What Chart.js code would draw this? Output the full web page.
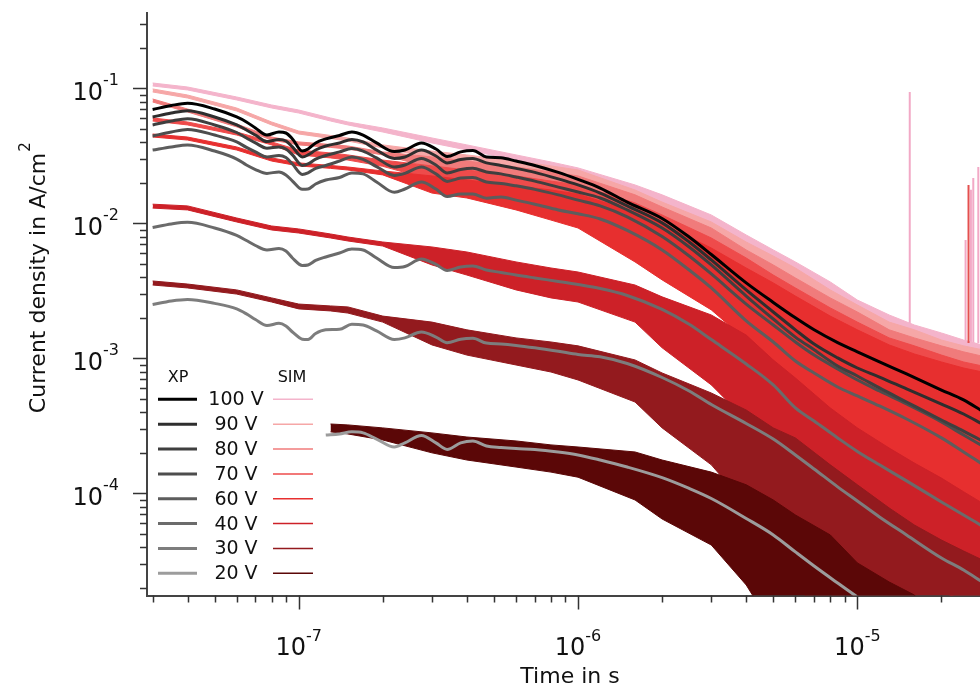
<!DOCTYPE html>
<html lang="en">
<head>
<meta charset="UTF-8">
<title>Current density transients</title>
<script src="https://cdn.jsdelivr.net/npm/chart.js"></script>
<style>
    body { margin: 0; background: #fff; }
    #wrap { width: 980px; height: 688px; position: relative; }
</style>
</head>
<body>
<div id="wrap"><canvas id="chart"></canvas></div>
<script>
// axis limits (s, A/cm^2)
const X_MIN = 2.864e-8, X_MAX = 2.748e-5;
const Y_MIN = 1.755e-5, Y_MAX = 0.3642;

const voltages = ['100 V', '90 V', '80 V', '70 V', '60 V', '40 V', '30 V', '20 V'];

const tXp = [3.0e-8, 3.5e-8, 4.0e-8, 5.0e-8, 6.0e-8, 6.5e-8, 7.0e-8, 7.7e-8, 8.5e-8, 9.0e-8,
    9.5e-8, 1.03e-7, 1.08e-7, 1.15e-7, 1.25e-7, 1.4e-7, 1.55e-7, 1.7e-7, 1.9e-7, 2.2e-7,
    2.4e-7, 2.75e-7, 3.1e-7, 3.4e-7, 3.8e-7, 4.2e-7, 4.7e-7, 5.3e-7, 6.0e-7, 7.0e-7,
    8.5e-7, 1.0e-6, 1.2e-6, 1.5e-6, 2.0e-6, 2.5e-6, 3.0e-6, 4.0e-6, 5.0e-6, 6.0e-6,
    7.0e-6, 8.5e-6, 1.0e-5, 1.2e-5, 1.5e-5, 2.0e-5, 2.4e-5, 2.8e-5];

const xp100 = [0.0699, 0.0748, 0.0777, 0.0705, 0.0615, 0.0565, 0.0510, 0.0452, 0.0476, 0.0468,
    0.0423, 0.0344, 0.0356, 0.0395, 0.0423, 0.0449, 0.0476, 0.0452, 0.0395, 0.0341,
    0.0350, 0.0395, 0.0356, 0.0314, 0.0339, 0.0347, 0.0311, 0.0307, 0.0290, 0.0269,
    0.0239, 0.0212, 0.0183, 0.0144, 0.0109, 0.00794, 0.00589, 0.00363, 0.00260, 0.00200,
    0.00163, 0.00131, 0.00112, 0.000942, 0.000768, 0.000584, 0.000493, 0.000408];
const xp90 = [0.0615, 0.0658, 0.0685, 0.0615, 0.0537, 0.0493, 0.0452, 0.0404, 0.0419, 0.0408,
    0.0369, 0.0311, 0.0322, 0.0350, 0.0375, 0.0395, 0.0419, 0.0402, 0.0350, 0.0303,
    0.0311, 0.0350, 0.0316, 0.0281, 0.0298, 0.0303, 0.0281, 0.0269, 0.0256, 0.0239,
    0.0214, 0.0193, 0.0168, 0.0135, 0.0101, 0.00729, 0.00537, 0.00322, 0.00221, 0.00163,
    0.00128, 0.00101, 0.000850, 0.000729, 0.000595, 0.000460, 0.000388, 0.000327];
const xp80 = [0.0537, 0.0574, 0.0597, 0.0537, 0.0472, 0.0430, 0.0395, 0.0361, 0.0369, 0.0356,
    0.0322, 0.0269, 0.0276, 0.0300, 0.0319, 0.0339, 0.0359, 0.0344, 0.0306, 0.0262,
    0.0271, 0.0303, 0.0271, 0.0237, 0.0251, 0.0256, 0.0241, 0.0233, 0.0221, 0.0206,
    0.0186, 0.0171, 0.01545, 0.0126, 0.00926, 0.00670, 0.00493, 0.00290, 0.00196, 0.00144,
    0.00116, 0.000880, 0.000742, 0.000605, 0.000476, 0.000350, 0.000290, 0.000245];
const xp70 = [0.0445, 0.0476, 0.0497, 0.0452, 0.0402, 0.0366, 0.0339, 0.0311, 0.0319, 0.0308,
    0.0276, 0.0231, 0.0237, 0.0256, 0.0269, 0.0290, 0.0311, 0.0298, 0.0264, 0.0227,
    0.0235, 0.0262, 0.0233, 0.0205, 0.0217, 0.0219, 0.0203, 0.0198, 0.0190, 0.0179,
    0.0163, 0.0149, 0.0135, 0.0112, 0.00801, 0.00574, 0.00423, 0.00253, 0.00177, 0.001325,
    0.00106, 0.000836, 0.000693, 0.000574, 0.000460, 0.000339, 0.000271, 0.000225];
const xp60 = [0.0350, 0.0369, 0.0382, 0.0344, 0.0300, 0.0271, 0.0251, 0.0235, 0.0241, 0.0229,
    0.0206, 0.0179, 0.0180, 0.0196, 0.0210, 0.0219, 0.0237, 0.0233, 0.0203, 0.0170,
    0.0180, 0.0203, 0.0180, 0.01585, 0.0165, 0.0165, 0.0154, 0.0157, 0.0149, 0.0139,
    0.0126, 0.0118, 0.0108, 0.00888, 0.00637, 0.00452, 0.00333, 0.00190, 0.001325, 0.000958,
    0.000781, 0.000615, 0.000528, 0.000445, 0.000356, 0.000258, 0.000203, 0.000165];
const xp40 = [0.00934, 0.00992, 0.0102, 0.00926, 0.00815, 0.00748, 0.00687, 0.00637, 0.00653, 0.00626,
    0.00555, 0.00489, 0.00493, 0.00532, 0.00565, 0.00605, 0.00647, 0.00637, 0.00555, 0.00472,
    0.00480, 0.00546, 0.00497, 0.00449, 0.00476, 0.00484, 0.00452, 0.00434, 0.00415, 0.00395,
    0.00372, 0.00353, 0.00330, 0.00293, 0.00231, 0.00179, 0.00138, 0.000911, 0.000637, 0.000430,
    0.000344, 0.000258, 0.000205, 0.000163, 0.000124, 0.0000865, 0.0000693, 0.0000574];
const xp30 = [0.00251, 0.00267, 0.00274, 0.00256, 0.00233, 0.00214, 0.001945, 0.001755, 0.00182, 0.00174,
    0.00157, 0.00139, 0.00138, 0.00153, 0.00163, 0.001645, 0.00179, 0.00177, 0.00160, 0.00138,
    0.00142, 0.00157, 0.00144, 0.00131, 0.00139, 0.00141, 0.00130, 0.00128, 0.00125, 0.00120,
    0.00113, 0.00107, 0.00103, 0.000918, 0.000723, 0.000574, 0.000456, 0.000330, 0.000253, 0.000193,
    0.000152, 0.000112, 0.0000880, 0.0000670, 0.0000493, 0.0000333, 0.0000271, 0.0000221];
const xp20 = [null, null, null, null, null, null, null, null, null, null,
    null, null, null, null, 0.000271, 0.000276, 0.000286, 0.000281, 0.000253, 0.000221,
    0.000237, 0.000269, 0.000237, 0.000212, 0.000237, 0.000245, 0.000225, 0.000219, 0.000215, 0.000212,
    0.000203, 0.000193, 0.000177, 0.000157, 0.000131, 0.000109, 0.0000918, 0.0000653, 0.0000493, 0.0000369,
    0.0000290, 0.0000217, 0.0000171, 0.0000133, null, null, null, null];

// simulated (SIM) traces: upper and lower edge of the noisy trace
const tSim = [3e-8, 4e-8, 6e-8, 8e-8, 1e-7, 1.3e-7, 1.5e-7, 2e-7, 3e-7, 4e-7,
    6e-7, 8e-7, 1e-6, 1.6e-6, 2e-6, 3e-6, 4e-6, 5e-6, 6e-6, 8e-6,
    1e-5, 1.3e-5, 1.6e-5, 2e-5, 2.4e-5, 2.8e-5];

const sim100Hi = [0.1098, 0.1026, 0.0865, 0.0755, 0.0693, 0.0605, 0.0565, 0.0510, 0.0430, 0.0382,
    0.0322, 0.02855, 0.0258, 0.0193, 0.0163, 0.01156, 0.00822, 0.00637, 0.00519, 0.00369,
    0.00271, 0.00210, 0.00177, 0.001545, 0.00137, 0.00126];
const sim100Lo = [0.1043, 0.0975, 0.0822, 0.0717, 0.0658, 0.0574, 0.0537, 0.0476, 0.0395, 0.0350,
    0.0295, 0.0258, 0.0229, 0.0149, 0.01156, 0.00693, 0.00452, 0.00322, 0.00249, 0.00163,
    0.00126, 0.000895, 0.000755, 0.000584, 0.000493, 0.000452];
const sim90Hi = [0.0992, 0.0895, 0.0717, 0.0565, 0.0484, 0.0449, 0.0430, 0.0382, 0.0344, 0.0322,
    0.0290, 0.0267, 0.0249, 0.0177, 0.0144, 0.01026, 0.00729, 0.00574, 0.00468, 0.00322,
    0.00249, 0.00186, 0.00163, 0.00137, 0.00124, 0.00116];
const sim90Lo = [0.0942, 0.0850, 0.0681, 0.0537, 0.0460, 0.0426, 0.0408, 0.0363, 0.0306, 0.0281,
    0.0249, 0.0225, 0.0203, 0.0137, 0.01026, 0.00584, 0.00382, 0.00271, 0.00210, 0.00137,
    0.00106, 0.000755, 0.000637, 0.000493, 0.000415, 0.000382];
const sim80Hi = [0.0836, 0.0705, 0.0546, 0.0437, 0.0402, 0.0385, 0.0375, 0.0339, 0.0311, 0.0290,
    0.0262, 0.0241, 0.0225, 0.0163, 0.01325, 0.00926, 0.00637, 0.00493, 0.00395, 0.00281,
    0.00221, 0.00163, 0.00142, 0.00124, 0.00112, 0.00104];
const sim80Lo = [0.0794, 0.0670, 0.0519, 0.0415, 0.0382, 0.0366, 0.0356, 0.0322, 0.0258, 0.0237,
    0.0210, 0.0183, 0.0163, 0.01156, 0.00865, 0.00493, 0.00322, 0.00221, 0.00168, 0.00106,
    0.000822, 0.000584, 0.000493, 0.000382, 0.000322, 0.000295];
const sim70Hi = [0.0605, 0.0565, 0.0476, 0.0402, 0.0350, 0.0333, 0.0322, 0.0295, 0.0267, 0.0249,
    0.0225, 0.0206, 0.0193, 0.0142, 0.01156, 0.00781, 0.00555, 0.00415, 0.00333, 0.00237,
    0.00186, 0.00142, 0.00124, 0.00106, 0.000942, 0.000880];
const sim70Lo = [0.0574, 0.0537, 0.0452, 0.0382, 0.0322, 0.0306, 0.0295, 0.0265, 0.0210, 0.0190,
    0.0163, 0.0142, 0.01217, 0.00822, 0.00615, 0.00350, 0.00229, 0.00163, 0.00126, 0.000755,
    0.000537, 0.000350, 0.000295, 0.000229, 0.000193, 0.000177];
const sim60Hi = [0.0460, 0.0437, 0.0369, 0.0306, 0.0281, 0.0269, 0.0262, 0.0245, 0.0225, 0.0210,
    0.0190, 0.0177, 0.01654, 0.01217, 0.00992, 0.00658, 0.00468, 0.00363, 0.00290, 0.00206,
    0.00163, 0.00126, 0.00108, 0.000942, 0.000850, 0.000794];
const sim60Lo = [0.0437, 0.0415, 0.0350, 0.0290, 0.0267, 0.0256, 0.0249, 0.0229, 0.0168, 0.01545,
    0.0126, 0.0106, 0.00926, 0.00519, 0.00382, 0.00229, 0.00137, 0.000926, 0.000637, 0.000350,
    0.000210, 0.000130, 0.0000975, 0.0000755, 0.0000615, 0.0000537];
const sim40Hi = [0.0139, 0.0135, 0.01098, 0.00958, 0.00911, 0.00836, 0.00794, 0.00729, 0.00670, 0.00615,
    0.00519, 0.00468, 0.00437, 0.00350, 0.00286, 0.00210, 0.00149, 0.000975, 0.000717, 0.000430,
    0.000306, 0.000217, 0.000168, 0.000130, 0.000103, 0.0000850];
const sim40Lo = [0.0130, 0.0126, 0.01026, 0.00895, 0.00850, 0.00781, 0.00742, 0.00681, 0.00493, 0.00415,
    0.00322, 0.00281, 0.00262, 0.00186, 0.00120, 0.000637, 0.000350, 0.000221, 0.000149, 0.0000781,
    0.0000476, 0.0000316, 0.0000241, 0.0000186, 0.0000163, 0.0000137];
const sim30Hi = [0.00375, 0.00356, 0.00322, 0.00281, 0.00253, 0.00245, 0.00241, 0.00206, 0.00186, 0.00163,
    0.00142, 0.001325, 0.00124, 0.000975, 0.000781, 0.000555, 0.000415, 0.000306, 0.000258, 0.000163,
    0.000116, 0.0000781, 0.0000584, 0.0000452, 0.0000375, 0.0000322];
const sim30Lo = [0.00350, 0.00333, 0.00300, 0.00262, 0.00233, 0.00225, 0.00217, 0.00186, 0.00126, 0.00106,
    0.000895, 0.000794, 0.000693, 0.000476, 0.000306, 0.000163, 0.0000822, 0.0000493, 0.0000221, 0.00001,
    0.00001, 0.00001, 0.00001, 0.00001, 0.00001, 0.00001];
const sim20Hi = [null, null, null, null, null, 0.000327, 0.000322, 0.000306, 0.000281, 0.000262,
    0.000245, 0.000229, 0.000221, 0.000203, 0.000177, 0.000144, 0.000116, 0.0000895, 0.0000693, 0.0000493,
    0.0000306, 0.0000221, 0.0000177, 0.00001, 0.00001, 0.00001];
const sim20Lo = [null, null, null, null, null, 0.000286, 0.000276, 0.000249, 0.000200, 0.000177,
    0.000157, 0.000144, 0.000132, 0.0000895, 0.0000647, 0.0000415, 0.0000210, 0.00001, 0.00001, 0.00001,
    0.00001, 0.00001, 0.00001, 0.00001, 0.00001, 0.00001];

// single spikes in the 100 V / 80 V simulations
const spikePinkT = [1.54e-5, 2.44e-5, 2.55e-5, 2.6e-5, 2.71e-5];
const spikePinkTop = [0.0942, 0.00755, 0.0178, 0.0217, 0.0262];
const spikeRedT = [2.5e-5];
const spikeRedTop = [0.0193];
const spikeBase = 0.0013;

const xpColors = ['#000000', '#2e2e2e', '#3f3f3f', '#4d4d4d', '#5d5d5d', '#6b6b6b', '#7d7d7d', '#9c9c9c'];
const simColors = ['#f4b4cb', '#f6a7a7', '#f07b7b', '#ee4b4b', '#e72f2f', '#cd2128', '#931a1e', '#5b0707'];

const xpSeries = [xp100, xp90, xp80, xp70, xp60, xp40, xp30, xp20];
const simHi = [sim100Hi, sim90Hi, sim80Hi, sim70Hi, sim60Hi, sim40Hi, sim30Hi, sim20Hi];
const simLo = [sim100Lo, sim90Lo, sim80Lo, sim70Lo, sim60Lo, sim40Lo, sim30Lo, sim20Lo];

const FONT = '"DejaVu Sans", Verdana, sans-serif';

function pts(ts, ys) {
    return ts.map((t, i) => ({ x: t, y: ys[i] }));
}
function spikePts(ts, tops) {
    const out = [];
    ts.forEach((t, i) => {
        out.push({ x: t, y: spikeBase }, { x: t, y: tops[i] }, { x: t, y: null });
    });
    return out;
}

let datasets = [];
xpSeries.forEach((arr, i) => {
    datasets.push({
        label: 'XP ' + voltages[i],
        data: pts(tXp, arr),
        borderColor: xpColors[i],
        borderWidth: 3,
        cubicInterpolationMode: 'monotone',
        order: 0
    });
});
simHi.forEach((hi, i) => {
    datasets.push({
        label: 'SIM ' + voltages[i],
        data: pts(tSim, hi),
        borderColor: simColors[i],
        borderWidth: 1,
        order: 8 - i
    });
    datasets.push({
        label: 'SIM ' + voltages[i] + ' low',
        data: pts(tSim, simLo[i]),
        borderColor: simColors[i],
        backgroundColor: simColors[i],
        borderWidth: 1,
        fill: '-1',
        order: 8 - i
    });
});
datasets.push({
    label: 'spikes 100 V',
    data: spikePts(spikePinkT, spikePinkTop),
    borderColor: '#f2a9c6',
    borderWidth: 2,
    order: 8
});
datasets.push({
    label: 'spikes 80 V',
    data: spikePts(spikeRedT, spikeRedTop),
    borderColor: '#e4504f',
    borderWidth: 2,
    order: 6
});

// ticks, tick labels, axis titles and the two-column legend
const decor = {
    id: 'decor',
    afterDraw(chart) {
        const ctx = chart.ctx;
        const a = chart.chartArea;
        const xs = chart.scales.x, ys = chart.scales.y;
        ctx.save();
        ctx.strokeStyle = '#333';
        ctx.lineWidth = 1.5;
        ctx.beginPath();
        for (let e = -8; e <= -5; e++) {
            for (let m = 1; m <= 9; m++) {
                const v = m * Math.pow(10, e);
                if (v < X_MIN || v > X_MAX) continue;
                const px = Math.round(xs.getPixelForValue(v)) + 0.5;
                ctx.moveTo(px, a.bottom);
                ctx.lineTo(px, a.bottom + (m === 1 ? 14 : 7));
            }
        }
        for (let e = -5; e <= -1; e++) {
            for (let m = 1; m <= 9; m++) {
                const v = m * Math.pow(10, e);
                if (v < Y_MIN || v > Y_MAX) continue;
                const py = Math.round(ys.getPixelForValue(v)) + 0.5;
                ctx.moveTo(a.left, py);
                ctx.lineTo(a.left - (m === 1 ? 14 : 7), py);
            }
        }
        ctx.stroke();

        ctx.fillStyle = '#111';
        ctx.textBaseline = 'alphabetic';
        // x tick labels
        [-7, -6, -5].forEach(e => {
            const px = xs.getPixelForValue(Math.pow(10, e));
            ctx.font = '24px ' + FONT;
            const w1 = ctx.measureText('10').width;
            ctx.font = '16px ' + FONT;
            const w2 = ctx.measureText(String(e)).width;
            const x0 = px - (w1 + w2) / 2;
            ctx.font = '24px ' + FONT;
            ctx.textAlign = 'left';
            ctx.fillText('10', x0, 655);
            ctx.font = '16px ' + FONT;
            ctx.fillText(String(e), x0 + w1, 641);
        });
        // y tick labels
        [-1, -2, -3, -4].forEach(e => {
            const py = ys.getPixelForValue(Math.pow(10, e));
            ctx.font = '16px ' + FONT;
            const w2 = ctx.measureText(String(e)).width;
            ctx.textAlign = 'left';
            ctx.fillText(String(e), 119 - w2, py - 3);
            ctx.font = '24px ' + FONT;
            ctx.textAlign = 'right';
            ctx.fillText('10', 119 - w2, py + 12);
        });

        // axis titles
        ctx.font = '22px ' + FONT;
        ctx.textAlign = 'center';
        ctx.fillText('Time in s', 570, 683);
        ctx.save();
        ctx.translate(45, 283);
        ctx.rotate(-Math.PI / 2);
        const title = 'Current density in A/cm';
        const tw = ctx.measureText(title).width;
        ctx.fillText(title, 0, 0);
        ctx.font = '15px ' + FONT;
        ctx.textAlign = 'left';
        ctx.fillText('2', tw / 2 + 1, -15);
        ctx.restore();

        // legend
        ctx.font = '16px ' + FONT;
        ctx.textAlign = 'center';
        ctx.fillText('XP', 178, 382);
        ctx.fillText('SIM', 292, 382);
        ctx.font = '19px ' + FONT;
        ctx.textBaseline = 'middle';
        voltages.forEach((v, i) => {
            const yy = 399.3 + i * 24.86;
            ctx.strokeStyle = xpColors[i];
            ctx.lineWidth = 3;
            ctx.beginPath();
            ctx.moveTo(158, yy);
            ctx.lineTo(197, yy);
            ctx.stroke();
            ctx.strokeStyle = simColors[i];
            ctx.lineWidth = 1.5;
            ctx.beginPath();
            ctx.moveTo(273, yy);
            ctx.lineTo(313, yy);
            ctx.stroke();
            ctx.fillStyle = '#111';
            ctx.fillText(v, 236, yy + 1);
        });
        ctx.restore();
    }
};

new Chart(document.getElementById('chart'), {
    type: 'line',
    data: { datasets: datasets },
    options: {
        responsive: true,
        maintainAspectRatio: false,
        animation: false,
        events: [],
        layout: { padding: { top: 12.7, left: 0, right: 0, bottom: 0 } },
        elements: {
            point: { radius: 0 },
            line: { tension: 0, fill: false }
        },
        datasets: { line: { clip: 0, spanGaps: false } },
        plugins: {
            legend: { display: false },
            tooltip: { enabled: false }
        },
        scales: {
            x: {
                type: 'logarithmic',
                min: X_MIN,
                max: X_MAX,
                grid: { display: false },
                ticks: { display: false },
                border: { display: true, color: '#444', width: 2 },
                afterFit(s) { s.height = 92.5; }
            },
            y: {
                type: 'logarithmic',
                min: Y_MIN,
                max: Y_MAX,
                grid: { display: false },
                ticks: { display: false },
                border: { display: true, color: '#444', width: 2 },
                afterFit(s) { s.width = 147; }
            }
        }
    },
    plugins: [decor]
});
</script>
</body>
</html>
